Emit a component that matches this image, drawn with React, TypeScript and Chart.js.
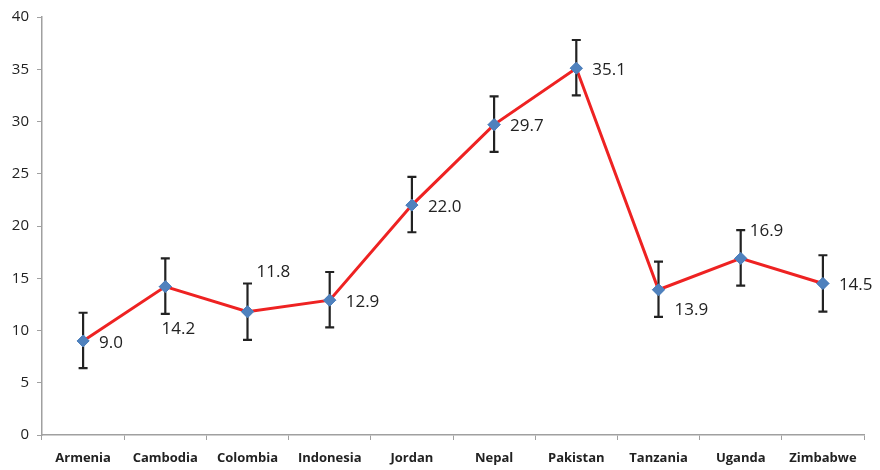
import React, { useEffect, useRef } from "react";
import { Chart, registerables } from "chart.js";

Chart.register(...registerables);

const countries = [
  "Armenia", "Cambodia", "Colombia", "Indonesia", "Jordan",
  "Nepal", "Pakistan", "Tanzania", "Uganda", "Zimbabwe",
];
const values = [9.0, 14.2, 11.8, 12.9, 22.0, 29.7, 35.1, 13.9, 16.9, 14.5];
const lowerCI = [6.4, 11.6, 9.1, 10.3, 19.4, 27.1, 32.5, 11.3, 14.3, 11.8];
const upperCI = [11.7, 16.9, 14.5, 15.6, 24.7, 32.4, 37.8, 16.6, 19.6, 17.2];
const yTicks = [0, 5, 10, 15, 20, 25, 30, 35, 40];

// where each value label sits relative to its point
const labelSide = ["right", "below", "aboveRight", "right", "right", "right", "right", "belowRight", "aboveRight", "right"];

const errorBarsAndLabels = {
  id: "errorBarsAndLabels",
  afterDatasetsDraw(chart: any) {
    const { ctx, scales } = chart;
    const xs = scales.x;
    const ys = scales.y;
    ctx.save();
    // confidence intervals
    ctx.strokeStyle = "#222222";
    ctx.lineWidth = 2.2;
    values.forEach((_, i) => {
      const x = xs.getPixelForValue(i);
      const yLo = ys.getPixelForValue(lowerCI[i]);
      const yHi = ys.getPixelForValue(upperCI[i]);
      ctx.beginPath();
      ctx.moveTo(x, yLo);
      ctx.lineTo(x, yHi);
      ctx.moveTo(x - 4.5, yLo);
      ctx.lineTo(x + 4.5, yLo);
      ctx.moveTo(x - 4.5, yHi);
      ctx.lineTo(x + 4.5, yHi);
      ctx.stroke();
    });
    // redraw markers above error bars
    const meta = chart.getDatasetMeta(0);
    meta.data.forEach((pt: any) => pt.draw(ctx));
    // value labels
    ctx.fillStyle = "#222222";
    ctx.font = "17px 'Open Sans', sans-serif";
    ctx.textBaseline = "middle";
    values.forEach((v, i) => {
      const x = xs.getPixelForValue(i);
      const y = ys.getPixelForValue(v);
      const text = v.toFixed(1);
      const side = labelSide[i];
      if (side === "right") {
        ctx.textAlign = "left";
        ctx.fillText(text, x + 16, y + 2);
      } else if (side === "below") {
        ctx.textAlign = "center";
        ctx.fillText(text, x + 13, y + 43);
      } else if (side === "aboveRight") {
        ctx.textAlign = "left";
        ctx.fillText(text, x + 9, y - 40 + (i === 8 ? 13 : 0));
      } else {
        ctx.textAlign = "left";
        ctx.fillText(text, x + 16, y + 20);
      }
    });
    ctx.restore();
  },
};

export default function App() {
  const ref = useRef<HTMLCanvasElement>(null);

  useEffect(() => {
    document.body.style.margin = "0";
    const chart = new Chart(ref.current!, {
      type: "line",
      data: {
        labels: countries,
        datasets: [
          {
            data: values,
            borderColor: "#EE2222",
            borderWidth: 3,
            pointStyle: "rectRot",
            pointRadius: 6,
            pointBackgroundColor: "#4F81BD",
            pointBorderColor: "#4F81BD",
            pointBorderWidth: 1,
            tension: 0,
          },
        ],
      },
      options: {
        animation: false,
        responsive: false,
        maintainAspectRatio: false,
        layout: { padding: { top: 14, right: 16, left: 0, bottom: 0 } },
        plugins: { legend: { display: false }, tooltip: { enabled: false } },
        scales: {
          x: {
            offset: true,
            grid: {
              offset: true,
              drawOnChartArea: false,
              drawTicks: true,
              tickLength: 5,
              color: "#A0A0A0",
            },
            border: { color: "#A0A0A0", width: 1.5 },
            ticks: {
              color: "#222222",
              font: { family: "'Open Sans', sans-serif", size: 13, weight: "bold" },
              padding: 10,
              maxRotation: 0,
              autoSkip: false,
            },
            afterFit(scale: any) {
              scale.height = 35;
            },
          },
          y: {
            min: 0,
            max: 40,
            afterBuildTicks(scale: any) {
              scale.ticks = yTicks.map((v) => ({ value: v }));
            },
            grid: {
              drawOnChartArea: false,
              drawTicks: true,
              tickLength: 5,
              color: "#A0A0A0",
            },
            border: { color: "#A0A0A0", width: 1.5 },
            ticks: {
              color: "#222222",
              font: { family: "'Open Sans', sans-serif", size: 15 },
              padding: 8,
            },
            afterFit(scale: any) {
              scale.width = 42;
            },
          },
        },
      },
      plugins: [errorBarsAndLabels],
    });
    return () => chart.destroy();
  }, []);

  return (
    <div style={{ width: 880, height: 470 }}>
      <canvas ref={ref} width={880} height={470} />
    </div>
  );
}
